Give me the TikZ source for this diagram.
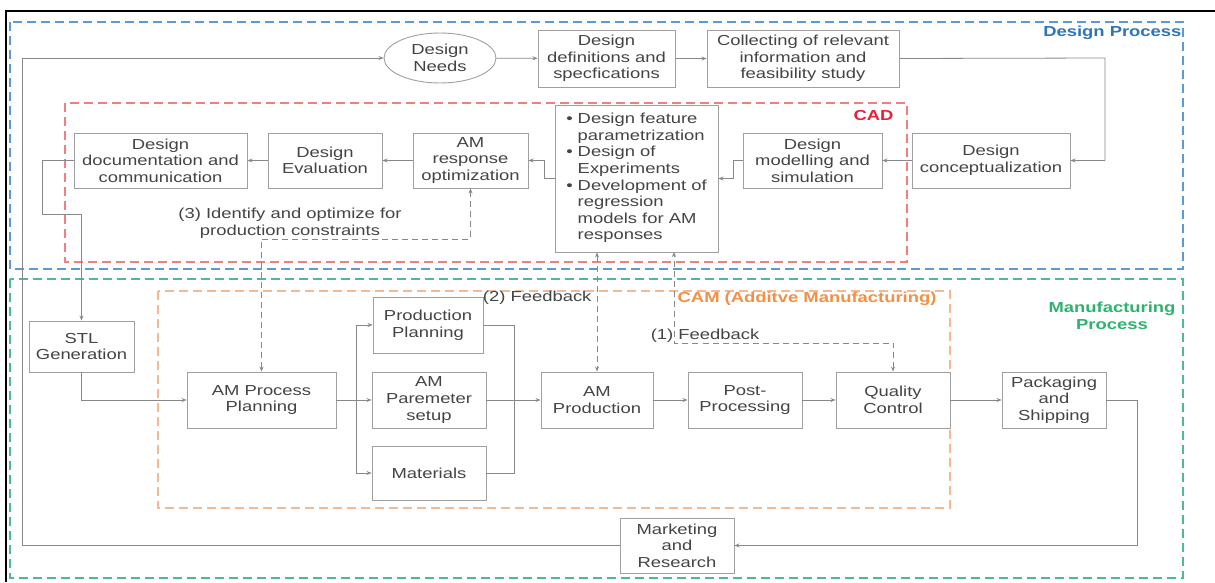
\documentclass[tikz,border=0pt]{standalone}
\usepackage{fontspec}
\setmainfont{Liberation Sans}[FakeStretch=1.27]
\usetikzlibrary{shapes.geometric,arrows.meta}
\definecolor{boxgray}{HTML}{A0A0A0}
\definecolor{txtgray}{HTML}{444444}
\definecolor{lnk}{HTML}{888888}
\definecolor{dpblue}{HTML}{5B9BD5}
\definecolor{dpbluetxt}{HTML}{2E75B6}
\definecolor{cadred}{HTML}{F08080}
\definecolor{cadtxt}{HTML}{E8203A}
\definecolor{mfggreen}{HTML}{4DB89A}
\definecolor{mfgtxt}{HTML}{2DB36E}
\definecolor{camorange}{HTML}{F6B890}
\definecolor{camtxt}{HTML}{F39045}
\begin{document}
\begin{tikzpicture}[x=1pt,y=-1pt,
  every node/.style={font=\fontsize{14.5}{16.6}\selectfont, text=txtgray},
  box/.style={draw=boxgray, line width=0.9pt, fill=white, inner sep=1pt, align=center},
  conn/.style={draw=lnk, line width=0.8pt, -{Stealth[length=5pt,width=4pt]}},
  plain/.style={draw=lnk, line width=0.8pt},
  fb/.style={draw=lnk, line width=0.8pt, dash pattern=on 6pt off 4pt, {Stealth[length=5pt,width=4pt]}-{Stealth[length=5pt,width=4pt]}},
  region/.style={line width=1.1pt, dash pattern=on 9pt off 5pt},
  rlabel/.style={font=\fontsize{14.5}{16.6}\selectfont\bfseries}
]
\useasboundingbox (0,0) rectangle (1215,582);
\fill[white] (0,0) rectangle (1215,582);
% outer black frame
\draw[line width=2pt, black] (6,582) -- (6,11) -- (1215,11);

% regions
\draw[region, draw=dpblue] (10,22) rectangle (1183,269);
\draw[region, draw=mfggreen] (10,279) rectangle (1183,578);
\draw[region, draw=cadred] (65,103) rectangle (907,262);
\draw[region, draw=camorange] (158,291) rectangle (950,508);

\node[rlabel, text=dpbluetxt, anchor=east] (lblDP) at (1185,33) {Design Process};
\node[rlabel, text=cadtxt, anchor=east] (lblCAD) at (897,116) {CAD};
\node[rlabel, text=camtxt, anchor=east] (lblCAM) at (940,299) {CAM (Additve Manufacturing)};
\node[rlabel, text=mfgtxt, align=center] (lblMP) at (1112,316) {Manufacturing\\Process};

% nodes
\node[box, ellipse, minimum width=112pt, minimum height=50pt, inner sep=0pt] (needs) at (440,58) {Design\\Needs};
\node[box, minimum width=137pt, minimum height=57pt] (defs) at (606.5,58.5) {Design\\definitions and\\specfications};
\node[box, minimum width=192pt, minimum height=57pt] (collect) at (803,58.5) {Collecting of relevant\\information and\\feasibility study};
\node[box, minimum width=158pt, minimum height=55pt] (concept) at (991,160.5) {Design\\conceptualization};
\node[box, minimum width=139pt, minimum height=55pt] (model) at (812.5,160.5) {Design\\modelling and\\simulation};
\node[box, minimum width=163pt, minimum height=147pt, align=left] (bullets) at (636.5,178.5) {%
\begin{tabular}{@{}l@{\hspace{5pt}}l@{}}
\textbullet & Design feature\\
 & parametrization\\
\textbullet & Design of\\
 & Experiments\\
\textbullet & Development of\\
 & regression\\
 & models for AM\\
 & responses
\end{tabular}};
\node[box, minimum width=115pt, minimum height=55pt] (resp) at (470.5,160.5) {AM\\response\\optimization};
\node[box, minimum width=114pt, minimum height=55pt] (eval) at (325,160.5) {Design\\Evaluation};
\node[box, minimum width=173pt, minimum height=55pt] (doc) at (160.5,160.5) {Design\\documentation and\\communication};
\node[box, minimum width=105pt, minimum height=51pt] (stl) at (81.5,346.5) {STL\\Generation};
\node[box, minimum width=149pt, minimum height=56pt] (ampp) at (261.5,400) {AM Process\\Planning};
\node[box, minimum width=110pt, minimum height=56pt] (prodplan) at (428,325) {Production\\Planning};
\node[box, minimum width=114pt, minimum height=56pt] (param) at (429,400) {AM\\Paremeter\\setup};
\node[box, minimum width=114pt, minimum height=54pt] (materials) at (429,473) {Materials};
\node[box, minimum width=112pt, minimum height=56pt] (amprod) at (597,400) {AM\\Production};
\node[box, minimum width=114pt, minimum height=56pt] (post) at (745,400) {Post-\\Processing};
\node[box, minimum width=114pt, minimum height=56pt] (qc) at (893,400) {Quality\\Control};
\node[box, minimum width=104pt, minimum height=56pt] (pack) at (1054,400) {Packaging\\and\\Shipping};
\node[box, minimum width=114pt, minimum height=55pt] (market) at (677,545.5) {Marketing\\and\\Research};

% helper coordinates
\coordinate (lx) at (22,58);
\coordinate (cr) at (1105,58);
\coordinate (m1) at (733,160.5);
\coordinate (b1) at (544,178.5);
\coordinate (d1) at (42,160.5);
\coordinate (d2) at (42,214);
\coordinate (s1) at (356,400);
\coordinate (s2) at (514,400);
\coordinate (pr) at (1137,400);
\coordinate (c3a) at (261.5,239);
\coordinate (c3b) at (470.5,239);
\coordinate (f1) at (893,343);
\coordinate (f2) at (674,343);
\coordinate (f3) at (674,252);

% connectors
\draw[conn] (market.west) -| (lx) -- (needs.west);
\draw[conn] (needs) -- (defs);
\draw[conn] (defs) -- (collect);
\draw[conn] (collect.east) -- (cr) |- (concept.east);
\draw[conn] (concept) -- (model);
\draw[conn] (model.west) -- (m1) |- (bullets.east);
\draw[conn] (bullets.west) -- (b1) |- (resp.east);
\draw[conn] (resp) -- (eval);
\draw[conn] (eval) -- (doc);
\draw[conn] (doc.west) -- (d1) -- (d2) -| (stl.north);
\draw[conn] (stl.south) |- (ampp.west);
\draw[conn] (ampp.east) -- (param.west);
\draw[conn] (s1) |- (prodplan.west);
\draw[conn] (s1) |- (materials.west);
\draw[plain] (prodplan.east) -| (s2);
\draw[plain] (materials.east) -| (s2);
\draw[conn] (param.east) -- (amprod.west);
\draw[conn] (amprod) -- (post);
\draw[conn] (post) -- (qc);
\draw[conn] (qc) -- (pack);
\draw[conn] (pack.east) -- (pr) |- (market.east);

% feedback connectors
\draw[fb] (ampp.north) -- (c3a) -- (c3b) -- (resp.south);
\node[align=center] (lbl3) at (290,223) {(3) Identify and optimize for\\production constraints};
\draw[fb] (amprod.north |- bullets.south) -- (amprod.north);
\node[anchor=east] (lbl2) at (595,298) {(2) Feedback};
\draw[fb] (qc.north) -- (f1) -- (f2) -- (f3);
\node (lbl1) at (705,336) {(1) Feedback};
\end{tikzpicture}
\end{document}
